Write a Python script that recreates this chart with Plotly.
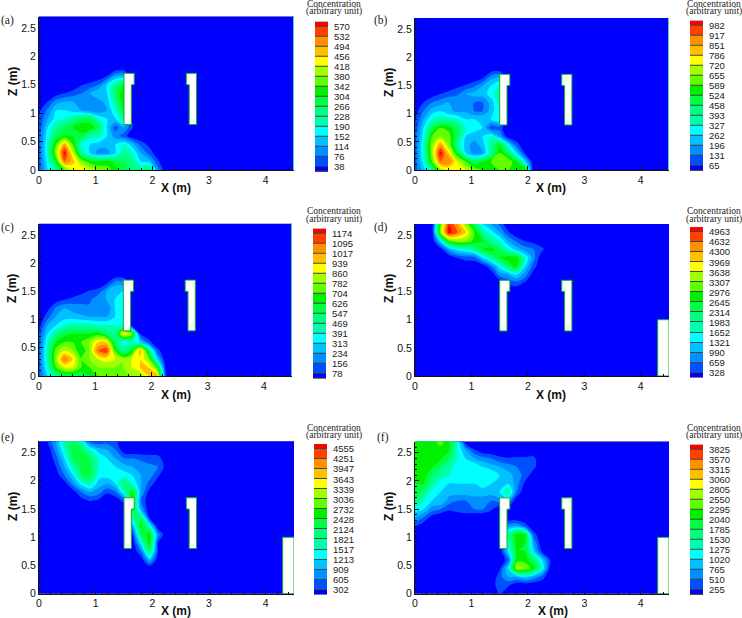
#Description: six concentration contour panels with band legends.

import numpy as np
import plotly.graph_objects as go

W, H = 742, 618

X_GRID = [0, .15, .3, .45, .6, .75, .9, 1.05, 1.2, 1.35, 1.5, 1.65, 1.8, 1.95, 2.1, 2.25, 2.4, 2.55, 4.5]
Z_GRID = [0, .15, .3, .45, .6, .75, .9, 1.05, 1.2, 1.35, 1.5, 1.65, 1.8, 1.95, 2.1, 2.25, 2.4, 2.55, 2.7]

# colour bands, low to high
BANDS = ["#0000ff", "#0050ff", "#0090ff", "#00c0ff", "#00ffff", "#00ffaa", "#00ff80", "#00ff40",
         "#00f000", "#60ff00", "#a0ff00", "#ffff00", "#ffc000", "#ff9000", "#ff4000", "#ff0000"]

LEVELS_A = [38, 76, 114, 152, 190, 228, 266, 304, 342, 380, 418, 456, 494, 532, 570]
LEVELS_B = [65, 131, 196, 262, 327, 393, 458, 524, 589, 655, 720, 786, 851, 917, 982]
LEVELS_C = [78, 156, 234, 313, 391, 469, 547, 626, 704, 782, 860, 939, 1017, 1095, 1174]
LEVELS_D = [328, 659, 990, 1321, 1652, 1983, 2314, 2645, 2976, 3307, 3638, 3969, 4300, 4632, 4963]
LEVELS_E = [302, 605, 909, 1213, 1517, 1821, 2124, 2428, 2732, 3036, 3339, 3643, 3947, 4251, 4555]
LEVELS_F = [255, 510, 765, 1020, 1275, 1530, 1785, 2040, 2295, 2550, 2805, 3060, 3315, 3570, 3825]

# readings in units of the lowest contour level, bottom row first, short rows are zero to the right
READ_A = [
    [1.5, 4, 6, 9, 11, 12, 11, 10, 9.5, 8.5, 7.5, 6.5, 6, 7.5, 2.5],
    [1.5, 4.5, 8, 14, 12.5, 10, 8.5, 8, 8.5, 7.5, 7, 6, 4, 3.5, 1.2],
    [1.5, 5, 10, 15.5, 11, 6, 4, 2.5, 2.5, 4, 6, 5, 3, 1.5, .3],
    [1.5, 5, 9, 13, 9, 5, 4, 3.5, 3.5, 4, 5, 3.5, 1.6, .7],
    [1.5, 4.5, 7, 8, 8, 7.5, 5.5, 5.5, 4, 2.5, 1.5, .2],
    [1.2, 4, 6, 7, 8, 9, 9, 7, 4, 1.5, 3, 1.1],
    [1, 3, 4.5, 5, 6, 7, 7, 5, 4, 4, 6],
    [.7, 2.2, 4, 4, 3.5, 3, 2.5, 2.2, 3, 5, 8],
    [0, 1, 2.5, 3, 3, 3, 3, 2.5, 3.5, 6, 9],
    [0, 0, .4, 1, 1.5, 2, 3, 4, 4, 7, 9],
    [0, 0, 0, 0, .1, .9, 1.3, 2, 4, 6, 8],
    [0, 0, 0, 0, 0, 0, 0, .2, 1, 3, 3],
]
READ_B = [
    [1.5, 3.5, 6, 10, 11, 12, 11, 10, 9, 9, 9, 9, 9, 9],
    [1.5, 4.5, 9, 14, 14, 11, 9, 7, 8, 9, 10, 10, 8, 4],
    [1.5, 5, 10, 15.5, 12, 8, 4, 2.5, 3, 6, 9, 7, 4, .8],
    [1.5, 5, 10, 13, 10, 6, 3.5, 2.5, 3.5, 6, 8, 4.5, 1.5],
    [1.5, 4.5, 9, 10, 9.5, 7, 4, 3.5, 4, 5, 3, .2],
    [1.2, 4, 7, 9, 8.5, 7, 5, 4.5, 4, 1.2, 1.5],
    [.8, 3, 5, 5.5, 5.5, 5, 4, 4, 4, 4, 5],
    [.5, 2, 3.5, 4, 3.2, 2.8, 2.8, 2, 2, 3.5, 5],
    [0, 1, 2, 2.5, 3, 3, 3, 2, 2, 3.5, 5.5],
    [0, 0, .4, 1, 1.5, 1.8, 3, 3.4, 3.5, 4.5, 6],
    [0, 0, 0, 0, .1, .7, 1.1, 1.7, 3, 4, 5],
    [0, 0, 0, 0, 0, 0, 0, .1, .6, 2.6, 3],
]
READ_C = [
    [1.5, 4, 6, 7, 7, 7, 8, 9, 9, 9, 9, 10, 10, 12, 13, 1.2],
    [1.5, 5, 9, 11, 11, 9, 9, 10, 10, 10, 10, 11, 12, 12, 9, .7],
    [1.5, 5.5, 10, 14, 12, 9, 10, 11, 11.5, 11, 10, 11, 12, 10, 4],
    [1.5, 5.5, 9.5, 11, 10, 8, 10, 14, 15, 9, 6, 8, 13, 7, 1.5],
    [1.5, 5, 8, 9, 9, 9, 10, 12, 12, 7, 4.5, 5, 4, 1.5],
    [1.2, 4, 6, 7.5, 8, 8, 8, 8.5, 7, 6, 12, 10, .7],
    [.5, 3, 4, 5, 5.5, 5.5, 5.5, 5, 5, 5, 5],
    [0, 1.6, 3, 3.5, 3.5, 3.2, 3, 3, 3, 4, 5],
    [0, .6, 2.2, 3, 2.6, 2.4, 2.2, 2, 2, 4, 5],
    [0, 0, .4, 1, 1.4, 1.6, 1.8, 2.8, 3, 4, 4.5],
    [0, 0, 0, 0, .1, .7, 1.1, 1.4, 3, 4, 4],
    [0, 0, 0, 0, 0, 0, 0, .1, .7, 2.5, 2.5],
]
READ_D = [
    [], [], [], [], [], [], [], [], [], [], [],
    [0, 0, 0, 0, 0, 0, 0, 0, 0, 0, 0, 1.2, 1.6, .8],
    [0, 0, 0, 0, 0, 0, 0, 0, 0, 0, 2.5, 3, 4, 2.5, .3],
    [0, 0, 0, 0, 0, 0, 0, 0, .2, 2, 4.5, 7, 8.6, 4, 1.5],
    [0, 0, 0, 0, 0, 1, 1.5, 1.6, 4, 6, 8, 8.6, 8.6, 5, 2.5],
    [0, 0, 0, .4, 3, 4.5, 5, 6, 8, 8.6, 7, 5, 3.5, 2.5, 2, 1.3],
    [0, 0, 0, 4, 9, 10, 10, 8.6, 8, 6, 5, 3, 1.8, 1, .6],
    [0, 0, 0, 10, 15.5, 14, 12, 9, 6, 4.5, 3, 1.2],
    [0, 0, 0, 9, 15, 13, 10, 7, 4, 3, 1.8],
]
READ_E = [
    [], [], [], [],
    [0, 0, 0, 0, 0, 0, 0, 0, 0, 0, 0, 0, .2, 3.5, .3],
    [0, 0, 0, 0, 0, 0, 0, 0, 0, 0, 0, 0, 2, 7, 1],
    [0, 0, 0, 0, 0, 0, 0, 0, 0, 0, 0, 0, 4.5, 8.5, 1],
    [0, 0, 0, 0, 0, 0, 0, 0, 0, 0, 0, 1, 7, 8.5, 2.5],
    [0, 0, 0, 0, 0, 0, 0, 0, 0, 0, 0, 3, 8.5, 5],
    [0, 0, 0, 0, 0, 0, 0, 0, 0, 0, 0, 6, 7, .8],
    [0, 0, 0, 0, 0, 0, 0, 0, 0, 0, 0, 8.5, 3],
    [0, 0, 0, 0, 0, .5, 1.1, .8, 0, .2, 1.5, 8.5, 2],
    [0, 0, 0, 0, .5, 2, 3, 2.5, 1.2, 2, 5, 8.5, 3, .5],
    [0, 0, 0, .4, 2.5, 4.5, 5.5, 3.5, 3, 4, 7, 5, 3, 1.6, .3],
    [0, 0, .4, 2, 4, 7, 7.5, 4.5, 4.5, 4.5, 4.5, 4, 3, 2.5, 1.2],
    [0, 0, 1, 3, 5.5, 7.5, 7.5, 5, 5, 4, 3.5, 3, 2.5, 2.2, 2, .5],
    [0, 0, 1.6, 4, 7, 8, 7, 5, 4, 3, 2, 2, 1.8, 1.6, 1.5],
    [0, .2, 2.5, 5, 7.5, 7, 5, 3.5, 3, 2, .3],
    [0, 1, 3, 6, 7, 5, 1.5, 1.2, 1.5, 1.2],
]
READ_F = [
    [0, 0, 0, 0, 0, 0, 0, 0, 0, 0, 1.1],
    [0, 0, 0, 0, 0, 0, 0, 0, 0, 0, 2, 1.2, .2],
    [0, 0, 0, 0, 0, 0, 0, 0, 0, 0, 1.6, 3, 3, 4, 3, 1.6],
    [0, 0, 0, 0, 0, 0, 0, 0, 0, 0, .8, 4, 10.5, 10, 8.5, 5, .3],
    [0, 0, 0, 0, 0, 0, 0, 0, 0, 0, 0, 1.6, 8.5, 8.5, 7, 4, .9],
    [0, 0, 0, 0, 0, 0, 0, 0, 0, 0, 0, 4, 8, 8, 4, .8],
    [0, 0, 0, 0, 0, 0, 0, 0, 0, 0, 0, 5, 8.5, 8, 3],
    [0, 0, 0, 0, 0, 0, 0, 0, 0, 0, 0, 6, 8.5, 8, 1.5],
    [1.2, .2, 0, 0, 0, 0, 0, 0, 0, 0, 0, 2.5, 3, 1.6],
    [3, 2, .5, 0, 0, 0, 0, 0, 0, 0],
    [4.5, 4, 2.5, 2, 1.2, 1.6, 2, 2, 2, 1.2],
    [7, 5, 4, 4, 2.5, 2, 2, 2.5, 2.5, 2, 2.5, 3],
    [8, 6.5, 4.5, 4, 3.5, 3.5, 3.5, 3.5, 3.5, 3.5, 4, 6, 2],
    [8, 8, 6, 4.5, 4, 4, 4, 4, 4.5, 4, 4, 4, 2.5, .7],
    [8.5, 8.5, 7, 5.5, 5, 4.5, 4.5, 5, 5, 5, 4, 3.5, 2.5, 1.6, .4],
    [8, 8.5, 8.2, 7, 5.5, 4.5, 5, 5, 4, 3.5, 3, 2.5, 2, 1.6, 1.3, .2],
    [8, 8.5, 8.5, 8.2, 7, 5, 4, 3, 2.5, 2, 1.3, 1.1, 1.2, 1.2, 1.3],
    [8, 8.5, 8.5, 8.5, 8.2, 5, 3, 1.1],
    [8, 8.5, 8.5, 9.5, 8.5, 5],
]

# obstacle outlines in metres
BLOCK_1_X = [1.5, 1.68, 1.68, 1.63, 1.63, 1.5, 1.5]
BLOCK_1_Z = [1.7, 1.7, 1.5, 1.5, .8, .8, 1.7]
BLOCK_2_X = [2.6, 2.78, 2.78, 2.65, 2.65, 2.6, 2.6]
BLOCK_2_Z = [1.7, 1.7, .8, .8, 1.5, 1.5, 1.7]
BLOCK_3_X = [4.3, 4.3, 4.5, 4.5, 4.3]
BLOCK_3_Z = [0, 1, 1, 0, 0]

# label, readings, levels, plot box, legend box, x title, z title, letter, legend head (pixels)
PANELS = [
    ("(a)", READ_A, LEVELS_A, (39, 294, 16.5, 170), (315, 328, 21.7, 172), (176, 188), (13, 82), (1, 21), (334, 4), False),
    ("(b)", READ_B, LEVELS_B, (415, 669, 18, 170), (690, 703, 20.7, 171), (551, 188), (389, 83), (375, 21), (714, 4), False),
    ("(c)", READ_C, LEVELS_C, (39, 292, 223.7, 376), (313, 326, 228.7, 378.7), (176, 394.7), (12, 289), (1, 227), (334, 211), False),
    ("(d)", READ_D, LEVELS_D, (415, 669, 224, 376), (690, 703, 227, 377.7), (551, 394.7), (389, 289), (375, 227), (714, 211), True),
    ("(e)", READ_E, LEVELS_E, (39, 294, 441.3, 593.7), (314, 327, 444, 594.7), (176, 611), (13, 507), (1, 437), (334, 428), True),
    ("(f)", READ_F, LEVELS_F, (415, 669, 441.5, 593.7), (690, 703, 444.7, 595), (553, 611), (389, 507), (377, 437), (714, 428), True),
]


def full_grid(rows):
    out = np.zeros((len(Z_GRID), len(X_GRID)))
    for i, row in enumerate(rows):
        out[i, :len(row)] = row
    return out


def px(x):
    return x / W


def py(y):
    return 1 - y / H


scale = [[0, BANDS[0]]]
for i, c in enumerate(BANDS):
    scale += [[i / 16, c], [(i + 1) / 16, c]]

fig = go.Figure()
notes = []
layout = {}
for n, (letter, rows, levels, box, leg, xt, zt, lt, head, has_wall) in enumerate(PANELS):
    a = 2 * n + 1
    b = 2 * n + 2
    step = levels[-1] / 15
    fig.add_trace(go.Contour(
        x=X_GRID, y=Z_GRID, z=full_grid(rows) * step, xaxis=f"x{a}", yaxis=f"y{a}",
        zmin=0, zmax=16 * step, colorscale=scale, showscale=False, hoverinfo="skip",
        line=dict(width=0, smoothing=0.9),
        contours=dict(start=step, end=levels[-1], size=step, coloring="fill", showlines=False),
    ))
    for bx, bz in [(BLOCK_1_X, BLOCK_1_Z), (BLOCK_2_X, BLOCK_2_Z)] + ([(BLOCK_3_X, BLOCK_3_Z)] if has_wall else []):
        fig.add_trace(go.Scatter(x=bx, y=bz, xaxis=f"x{a}", yaxis=f"y{a}", mode="lines", fill="toself",
                                 fillcolor="white", line=dict(color="#10b030", width=1), hoverinfo="skip"))
    if not has_wall:
        fig.add_trace(go.Scatter(x=[4.5, 4.5], y=[0, 2.7], xaxis=f"x{a}", yaxis=f"y{a}", mode="lines",
                                 line=dict(color="#50d0c0", width=2), hoverinfo="skip"))

    edges = [levels[0] - step / 2] + levels + [levels[-1] + step / 2]
    fig.add_trace(go.Heatmap(x=[0, 1], y=edges, z=[[i] for i in range(16)], xaxis=f"x{b}", yaxis=f"y{b}",
                             colorscale=scale, zmin=-0.5, zmax=15.5, showscale=False, ygap=1, hoverinfo="skip"))

    layout[f"xaxis{a}"] = dict(
        domain=[px(box[0]), px(box[1])], range=[0, 4.5], anchor=f"y{a}", dtick=1, ticks="inside", ticklen=4,
        tickcolor="#111", showgrid=False, zeroline=False, showline=True, linecolor="#111", linewidth=1, automargin=False,
        tickfont=dict(size=10.5), minor=dict(dtick=.2, ticks="inside", ticklen=2, tickcolor="#111", showgrid=False),
    )
    layout[f"yaxis{a}"] = dict(
        domain=[py(box[3]), py(box[2])], range=[0, 2.7], anchor=f"x{a}", dtick=.5, ticks="inside", ticklen=4,
        tickcolor="#111", showgrid=False, zeroline=False, showline=True, linecolor="#111", linewidth=1, automargin=False,
        tickfont=dict(size=10.5), minor=dict(dtick=.1, ticks="inside", ticklen=2, tickcolor="#111", showgrid=False),
    )
    layout[f"xaxis{b}"] = dict(domain=[px(leg[0]), px(leg[1])], range=[0, 1], anchor=f"y{b}", visible=False, automargin=False)
    layout[f"yaxis{b}"] = dict(
        domain=[py(leg[3]), py(leg[2])], range=[edges[0], edges[-1]], anchor=f"x{b}", side="right",
        tickmode="array", tickvals=levels, ticktext=[str(v) for v in levels], ticks="outside", ticklen=3,
        tickcolor="rgba(0,0,0,0)", showgrid=False, zeroline=False, showline=False, automargin=False,
        tickfont=dict(size=9.5, color="#222"),
    )

    notes.append(dict(text="X (m)", x=px(xt[0]), y=py(xt[1]), font=dict(size=12, color="#111"), bold=True))
    notes.append(dict(text="Z (m)", x=px(zt[0]), y=py(zt[1]), font=dict(size=12, color="#111"), bold=True, textangle=-90))
    notes.append(dict(text=letter, x=px(lt[0] + 6), y=py(lt[1]),
                      font=dict(size=11.5, family="Liberation Serif", color="#222")))
    notes.append(dict(text="Concentration", x=px(head[0]), y=py(head[1]),
                      font=dict(size=9.5, family="Liberation Serif", color="#222")))
    notes.append(dict(text="(arbitrary unit)", x=px(head[0]), y=py(head[1] + 8),
                      font=dict(size=9.5, family="Liberation Serif", color="#222")))

annotations = []
for note in notes:
    if note.pop("bold", False):
        note["text"] = f"<b>{note['text']}</b>"
    annotations.append(dict(xref="paper", yref="paper", showarrow=False, xanchor="center", yanchor="middle", **note))

fig.update_layout(
    width=W, height=H, margin=dict(l=0, r=0, t=0, b=0), showlegend=False,
    paper_bgcolor="white", plot_bgcolor="#444444",
    font=dict(family="Liberation Sans", size=11, color="#111"),
    annotations=annotations, **layout,
)
# the page body would otherwise push the figure 8 px in
fig.write_html("out.html", config={"displayModeBar": False}, post_script="document.body.style.margin = '0';")
